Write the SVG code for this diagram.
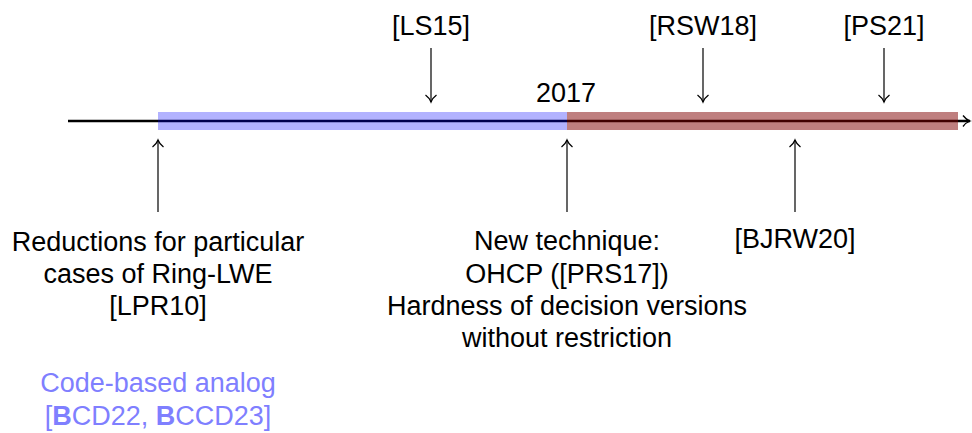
<svg xmlns="http://www.w3.org/2000/svg" width="972" height="433" viewBox="0 0 972 433">
  <defs>
    <marker id="tip" markerWidth="14" markerHeight="14" refX="10" refY="7" orient="auto" markerUnits="userSpaceOnUse">
      <path d="M3,1.5 Q6,5.5 10,7 Q6,8.5 3,12.5" fill="none" stroke="#000" stroke-width="1.3"/>
    </marker>
  </defs>
  <style>
    text { font-family: "Liberation Sans", Arial, sans-serif; font-size: 27px; fill: #000; text-anchor: middle; }
    .blue { fill: #7f7fff; }
    .conn { stroke: #000; stroke-width: 1.2; fill: none; marker-end: url(#tip); }
  </style>

  <!-- timeline axis -->
  <g id="axis">
    <line x1="68" y1="121" x2="970" y2="121" stroke="#000" stroke-width="2.4" marker-end="url(#tip)"/>
    <rect x="158" y="112" width="409" height="18" fill="#0000ff" fill-opacity="0.3"/>
    <rect x="567" y="112" width="391" height="18" fill="#800000" fill-opacity="0.5"/>
    <text x="566" y="102">2017</text>
  </g>

  <!-- connectors -->
  <g id="connectors">
    <line class="conn" x1="431" y1="48" x2="431" y2="102"/>
    <line class="conn" x1="703" y1="48" x2="703" y2="102"/>
    <line class="conn" x1="884" y1="48" x2="884" y2="102"/>
    <line class="conn" x1="158" y1="212" x2="158" y2="140"/>
    <line class="conn" x1="567" y1="212" x2="567" y2="140"/>
    <line class="conn" x1="795" y1="212" x2="795" y2="140"/>
  </g>

  <g id="ls15"><text x="431" y="35">[LS15]</text></g>
  <g id="rsw18"><text x="703" y="35">[RSW18]</text></g>
  <g id="ps21"><text x="884" y="35">[PS21]</text></g>

  <g id="lpr10">
    <text x="158" y="251">Reductions for particular</text>
    <text x="158" y="283">cases of Ring-LWE</text>
    <text x="158" y="315">[LPR10]</text>
  </g>

  <g id="code-based">
    <text class="blue" x="158" y="392">Code-based analog</text>
    <text class="blue" x="158" y="425">[<tspan font-weight="bold">B</tspan>CD22, <tspan font-weight="bold">B</tspan>CCD23]</text>
  </g>

  <g id="ohcp">
    <text x="567" y="250">New technique:</text>
    <text x="567" y="283">OHCP ([PRS17])</text>
    <text x="567" y="315">Hardness of decision versions</text>
    <text x="567" y="347">without restriction</text>
  </g>

  <g id="bjrw20"><text x="795" y="248">[BJRW20]</text></g>
</svg>
